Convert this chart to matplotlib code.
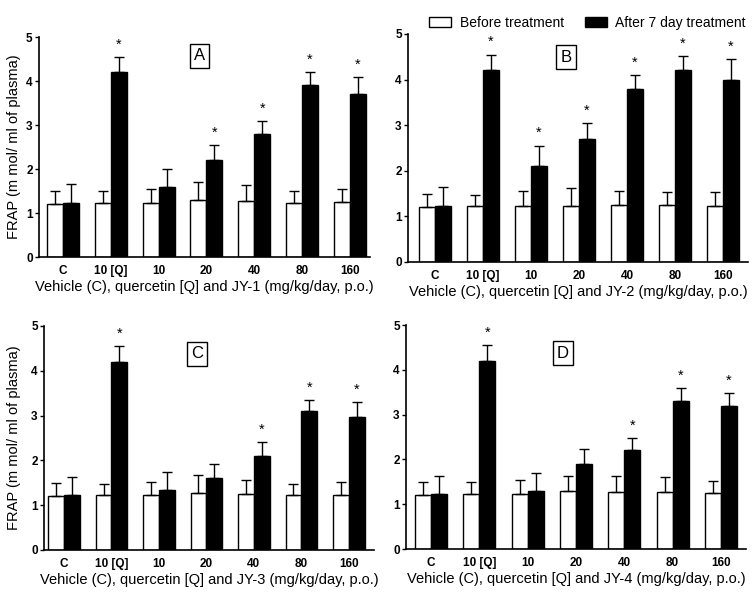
import matplotlib
matplotlib.use("Agg")
import matplotlib.pyplot as plt
import numpy as np

plt.rcParams['font.family'] = ['Liberation Sans', 'DejaVu Sans']

# dose groups shared by all four panels
groups = ['C', '10 [Q]', '10', '20', '40', '80', '160']

# panel A - JY-1
a_before = [1.20, 1.22, 1.23, 1.30, 1.28, 1.23, 1.25]
a_before_err = [0.30, 0.27, 0.32, 0.40, 0.35, 0.27, 0.30]
a_after = [1.23, 4.20, 1.60, 2.20, 2.80, 3.90, 3.70]
a_after_err = [0.42, 0.35, 0.40, 0.35, 0.30, 0.30, 0.40]
a_stars = [False, True, False, True, True, True, True]

# panel B - JY-2
b_before = [1.20, 1.22, 1.23, 1.22, 1.25, 1.26, 1.23]
b_before_err = [0.30, 0.26, 0.32, 0.41, 0.31, 0.28, 0.31]
b_after = [1.23, 4.20, 2.10, 2.70, 3.80, 4.20, 4.00]
b_after_err = [0.42, 0.35, 0.45, 0.35, 0.30, 0.32, 0.45]
b_stars = [False, True, True, True, True, True, True]

# panel C - JY-3
c_before = [1.20, 1.22, 1.22, 1.28, 1.24, 1.22, 1.22]
c_before_err = [0.30, 0.26, 0.30, 0.40, 0.33, 0.25, 0.30]
c_after = [1.23, 4.20, 1.33, 1.60, 2.10, 3.10, 2.97]
c_after_err = [0.40, 0.35, 0.42, 0.32, 0.30, 0.25, 0.33]
c_stars = [False, True, False, False, True, True, True]

# panel D - JY-4
d_before = [1.20, 1.22, 1.23, 1.30, 1.27, 1.28, 1.24]
d_before_err = [0.30, 0.28, 0.32, 0.33, 0.35, 0.32, 0.28]
d_after = [1.23, 4.20, 1.30, 1.90, 2.20, 3.30, 3.20]
d_after_err = [0.40, 0.35, 0.40, 0.33, 0.28, 0.30, 0.28]
d_stars = [False, True, False, False, True, True, True]

panels = [
    ('A', 'JY-1', a_before, a_before_err, a_after, a_after_err, a_stars),
    ('B', 'JY-2', b_before, b_before_err, b_after, b_after_err, b_stars),
    ('C', 'JY-3', c_before, c_before_err, c_after, c_after_err, c_stars),
    ('D', 'JY-4', d_before, d_before_err, d_after, d_after_err, d_stars),
]

# layout in pixels: left, top, right, bottom; xlim; letter box position (axes fraction)
W, H = 756, 592
layout = {
    'A': ((39, 37, 370, 257), (-0.50, 6.42), (0.485, 0.914)),
    'B': ((408, 34, 748, 262), (-0.56, 6.52), (0.465, 0.899)),
    'C': ((44, 326, 374, 550), (-0.42, 6.53), (0.464, 0.875)),
    'D': ((406, 325, 746, 549), (-0.52, 6.52), (0.462, 0.875)),
}

fig = plt.figure(figsize=(W / 100, H / 100), dpi=100)

bw = 0.333
x = np.arange(len(groups))
legend_handles = None

for letter, drug, before, before_err, after, after_err, stars in panels:
    (l, t, r, b), xlim, boxpos = layout[letter]
    ax = fig.add_axes([l / W, 1 - b / H, (r - l) / W, (b - t) / H])

    p1 = ax.bar(x - bw / 2, before, bw, color='white', edgecolor='black', linewidth=1.0,
                yerr=[np.zeros(len(x)), before_err],
                error_kw=dict(ecolor='black', elinewidth=1.0, capsize=3.5, capthick=1.0))
    p2 = ax.bar(x + bw / 2, after, bw, color='black', edgecolor='black', linewidth=1.0,
                yerr=[np.zeros(len(x)), after_err],
                error_kw=dict(ecolor='black', elinewidth=1.0, capsize=3.5, capthick=1.0))
    if legend_handles is None:
        legend_handles = (p1, p2)

    for i, s in enumerate(stars):
        if s:
            ax.text(x[i] + bw / 2, after[i] + after_err[i] + 0.12, '*', ha='center', va='bottom',
                    fontsize=10.5)

    ax.set_xlim(*xlim)
    ax.set_ylim(0, 5)
    ax.set_yticks([0, 1, 2, 3, 4, 5])
    ax.set_xticks(x)
    ax.set_xticklabels(groups, fontweight='bold', fontsize=8.5)
    for lab in ax.get_yticklabels():
        lab.set_fontweight('bold')
        lab.set_fontsize(8.5)
    ax.tick_params(axis='x', length=0, pad=6)
    ax.tick_params(axis='y', length=3, width=1.0, pad=1.5)
    ax.spines['top'].set_visible(False)
    ax.spines['right'].set_visible(False)
    ax.spines['left'].set_linewidth(1.2)
    ax.spines['bottom'].set_linewidth(1.2)

    ax.set_xlabel('Vehicle (C), quercetin [Q] and ' + drug + ' (mg/kg/day, p.o.)',
                  fontsize=10.5, labelpad=2)
    if letter in ('A', 'C'):
        ax.set_ylabel('FRAP (m mol/ ml of plasma)', fontsize=10.5)
        ax.yaxis.set_label_coords((21 - l) / (r - l), 0.5)

    ax.text(boxpos[0], boxpos[1], letter, transform=ax.transAxes, ha='center', va='center',
            fontsize=12, bbox=dict(boxstyle='square,pad=0.25', fc='white', ec='black', lw=1.0))

fig.legend(legend_handles, ['Before treatment', 'After 7 day treatment'],
           loc='center left', bbox_to_anchor=(429 / W, 1 - 23 / H), ncol=2, frameon=False,
           fontsize=10, handlelength=1.6, handleheight=0.75, handletextpad=0.6,
           columnspacing=1.5, borderpad=0, borderaxespad=0)

fig.savefig('out.png', dpi=100)
